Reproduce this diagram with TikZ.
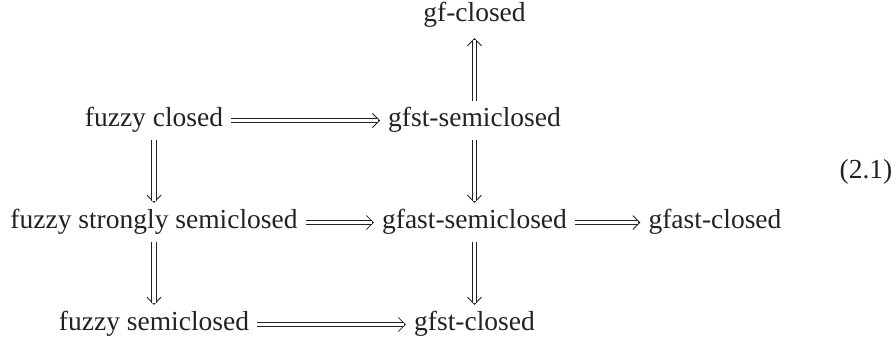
\documentclass[tikz,border=0pt]{standalone}
\usepackage{fontspec}
\setmainfont{Liberation Serif}
\usetikzlibrary{arrows.meta}
\definecolor{ink}{HTML}{222222}
\tikzset{
  lbl/.style={anchor=base, inner xsep=8pt, inner ysep=8pt, text height=17pt, text depth=6pt, text=ink,
    font=\fontsize{27.5}{33}\selectfont},
  imp/.style={draw=ink, line width=0.8pt, -{Straight Barb[length=7pt,width=14pt]},
    postaction={draw=ink, -, double=white, double distance=3.6pt, shorten >=1.9pt}},
}
\begin{document}
\begin{tikzpicture}[x=1pt,y=-1pt]
\useasboundingbox (0,0) rectangle (896,340);
% column 1
\node[lbl] (fc)  at (154,126) {fuzzy closed};
\node[lbl] (fss) at (154,228) {fuzzy strongly semiclosed};
\node[lbl] (fs)  at (154,330) {fuzzy semiclosed};
% column 2
\node[lbl] (gf)  at (474.5,21)  {gf-closed};
\node[lbl] (gss) at (474.5,126) {gfst-semiclosed};
\node[lbl] (gas) at (474.5,228) {gfast-semiclosed};
\node[lbl] (gc)  at (474.5,330) {gfst-closed};
% column 3
\node[lbl] (gac) at (715,228) {gfast-closed};
% equation number
\node[lbl, inner xsep=0pt] (eq) at (866,178) {(2.1)};
\coordinate (gfb) at ([yshift=-3pt]gf.south);
% arrows
\draw[imp] (fc.east) -- (gss.west);
\draw[imp] (fss.east) -- (gas.west);
\draw[imp] (gas.east) -- (gac.west);
\draw[imp] (fs.east) -- (gc.west);
\draw[imp] (fc.south) -- (fss.north);
\draw[imp] (fss.south) -- (fs.north);
\draw[imp] (gss.south) -- (gas.north);
\draw[imp] (gas.south) -- (gc.north);
\draw[imp] (gss.north) -- (gfb);
\end{tikzpicture}
\end{document}
